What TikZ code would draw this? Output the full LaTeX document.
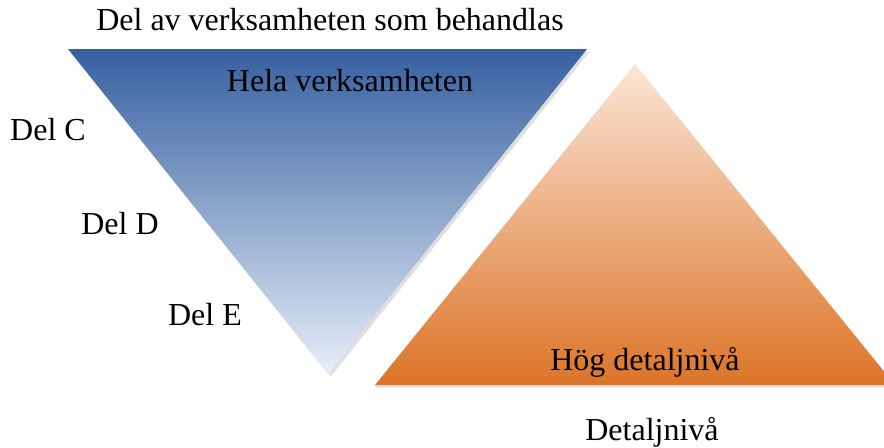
\documentclass[tikz,border=0pt]{standalone}
\usepackage{fontspec}
\setmainfont{Liberation Serif}
\usetikzlibrary{shadows}
\definecolor{blueTop}{RGB}{54,96,160}
\definecolor{blueMid}{RGB}{86,124,182}
\definecolor{blueBot}{RGB}{230,238,248}
\definecolor{orTop}{RGB}{251,230,214}
\definecolor{orMid}{RGB}{236,176,130}
\definecolor{orBot}{RGB}{220,116,40}
\tikzset{
	label/.style={font=\fontsize{24}{28}\selectfont, inner sep=0pt},
}
\begin{document}
\begin{tikzpicture}[x=0.75pt,y=-0.75pt]
	\useasboundingbox (0,0) rectangle (884,447);
	\clip (0,0) rectangle (884,447);

	\coordinate (A) at (68,49);
	\coordinate (B) at (587,49);
	\coordinate (C) at (328,374);

	\coordinate (A2) at (635,64);
	\coordinate (B2) at (375,385);
	\coordinate (C2) at (895,385);



	\shade[top color=blueTop,middle color=blueMid,bottom color=blueBot,drop shadow={opacity=0.25,shadow xshift=2pt,shadow yshift=-2pt}](A)--(B)--(C)--cycle;
	\shade[top color=orTop,middle color=orMid,bottom color=orBot,drop shadow={opacity=0.25,shadow xshift=0pt,shadow yshift=-2pt}](A2)--(B2)--(C2)--cycle;


	\node[label] (top) at (330,20) {Del av verksamheten som behandlas};
	\node[label] (hela) at (350,81) {Hela verksamheten};
	\node[label] (delc) at (48,130) {Del C};
	\node[label] (deld) at (120,224) {Del D};
	\node[label] (dele) at (205,315) {Del E};
	\node[label] (hog) at (645,362) {Hög detaljnivå};
	\node[label] (detalj) at (652,432) {Detaljnivå};

\end{tikzpicture}
\end{document}
